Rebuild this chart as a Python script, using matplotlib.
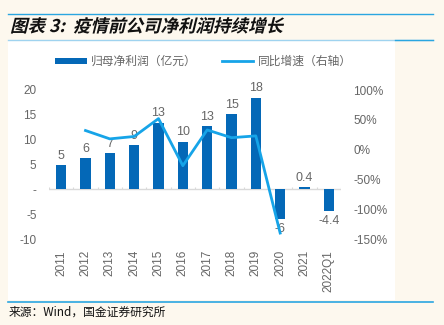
import numpy as np
import matplotlib.pyplot as plt
from matplotlib.patches import Rectangle, PathPatch
from matplotlib.lines import Line2D
from matplotlib.textpath import TextPath
from matplotlib.font_manager import FontProperties
from matplotlib.transforms import Affine2D

plt.rcParams['font.family'] = ['Liberation Sans', 'Noto Sans CJK SC']

years = ["2011", "2012", "2013", "2014", "2015", "2016", "2017", "2018",
         "2019", "2020", "2021", "2022Q1"]
profit = [4.9, 6.3, 7.3, 8.9, 13.4, 9.6, 12.7, 15.1, 18.4, -6.0, 0.4, -4.4]
profit_labels = ["5", "6", "7", "9", "13", "10", "13", "15", "18", "-6", "0.4", "-4.4"]
growth = [None, 32, 18, 22, 52, -27, 33, 20, 23, -140, None, None]

bar_color = "#0468b7"
line_color = "#16a4e8"
text_color = "#666666"
cream = "#fdf8ee"

fig = plt.figure(figsize=(4.44, 3.25), dpi=100)
fig.patch.set_facecolor(cream)

W, H = 444, 325

def fx(px):
    return px / W

def fy(py):
    return 1 - py / H

# white chart panel and frame lines
fig.patches.append(Rectangle((fx(8), fy(300)), fx(395) - fx(8), fy(40) - fy(300),
                             transform=fig.transFigure, facecolor="white",
                             edgecolor="none", zorder=-5))
fig.lines.append(Line2D([fx(8), fx(433)], [fy(14), fy(14)], transform=fig.transFigure,
                        color="#2aa6e0", lw=1.0))
fig.lines.append(Line2D([fx(8), fx(433)], [fy(39.5), fy(39.5)], transform=fig.transFigure,
                        color="#9fd3ef", lw=1.0))
fig.lines.append(Line2D([fx(395), fx(433)], [fy(39.5), fy(39.5)], transform=fig.transFigure,
                        color="#2aa6e0", lw=1.0))
fig.lines.append(Line2D([fx(8), fx(433)], [fy(302), fy(302)], transform=fig.transFigure,
                        color="#2aa6e0", lw=1.2))

# slanted bold title (the CJK font has no italic face, so shear the glyph outlines)
title_fp = FontProperties(family="Noto Sans CJK SC", weight="bold")
tp = TextPath((0, 0), "图表 3:  疫情前公司净利润持续增长", size=17.5, prop=title_fp)
tr = Affine2D().skew_deg(14, 0).translate(10, H - 32)
fig.patches.append(PathPatch(tr.transform_path(tp), transform=None,
                             facecolor="#111111", edgecolor="none"))

fig.text(fx(9), fy(312), "来源：Wind，国金证券研究所", fontsize=8.5, va="center",
         ha="left", color="#111111", family=["Noto Sans CJK SC"])

ax = fig.add_axes([fx(49), fy(239), fx(341) - fx(49), fy(90) - fy(239)])
ax.set_facecolor("none")
x = np.arange(len(years))

ax.bar(x, profit, width=0.43, color=bar_color, zorder=3)
ax.axhline(0, color="#d9d9d9", lw=1.0, zorder=2)
ax.vlines(np.arange(len(years) + 1) - 0.5, 0, 0.5, color="#d9d9d9", lw=0.8, zorder=2)

for xi, v, lab in zip(x, profit, profit_labels):
    if v >= 0:
        ax.text(xi, v + 0.7, lab, ha="center", va="bottom", fontsize=9, color=text_color)
    else:
        ax.text(xi, v - 0.7, lab, ha="center", va="top", fontsize=9, color=text_color)

ax.set_xlim(-0.5, len(years) - 0.5)
ax.set_ylim(-10, 20)
ax.set_yticks([-10, -5, 0, 5, 10, 15, 20])
ax.set_yticklabels(["-10", "-5", "-", "5", "10", "15", "20"])
ax.set_xticks(x)
ax.set_xticklabels(years, rotation=90)
ax.tick_params(axis="both", length=0, labelsize=8.5, colors=text_color)
ax.tick_params(axis="y", pad=9)
ax.tick_params(axis="x", pad=8)
for s in ax.spines.values():
    s.set_visible(False)

ax2 = ax.twinx()
gx = [xi for xi, g in zip(x, growth) if g is not None]
gy = [g for g in growth if g is not None]
ax2.plot(gx, gy, color=line_color, lw=2.0, zorder=4)
ax2.set_ylim(-150, 100)
ax2.set_yticks([-150, -100, -50, 0, 50, 100])
ax2.set_yticklabels([f"{v}%" for v in [-150, -100, -50, 0, 50, 100]])
ax2.tick_params(axis="y", length=0, labelsize=8.5, colors=text_color, pad=9)
for s in ax2.spines.values():
    s.set_visible(False)

# legend keys drawn in figure pixels
fig.patches.append(Rectangle((fx(55), fy(64)), fx(87) - fx(55), fy(58) - fy(64),
                             transform=fig.transFigure, facecolor=bar_color,
                             edgecolor="none"))
fig.text(fx(91), fy(61), "归母净利润（亿元）", fontsize=8.5, color=text_color,
         va="center", ha="left", family=["Noto Sans CJK SC"])
fig.lines.append(Line2D([fx(222), fx(253)], [fy(61), fy(61)], transform=fig.transFigure,
                        color=line_color, lw=2.0))
fig.text(fx(258), fy(61), "同比增速（右轴）", fontsize=8.5, color=text_color,
         va="center", ha="left", family=["Noto Sans CJK SC"])

fig.savefig("out.png", dpi=100, facecolor=cream)
